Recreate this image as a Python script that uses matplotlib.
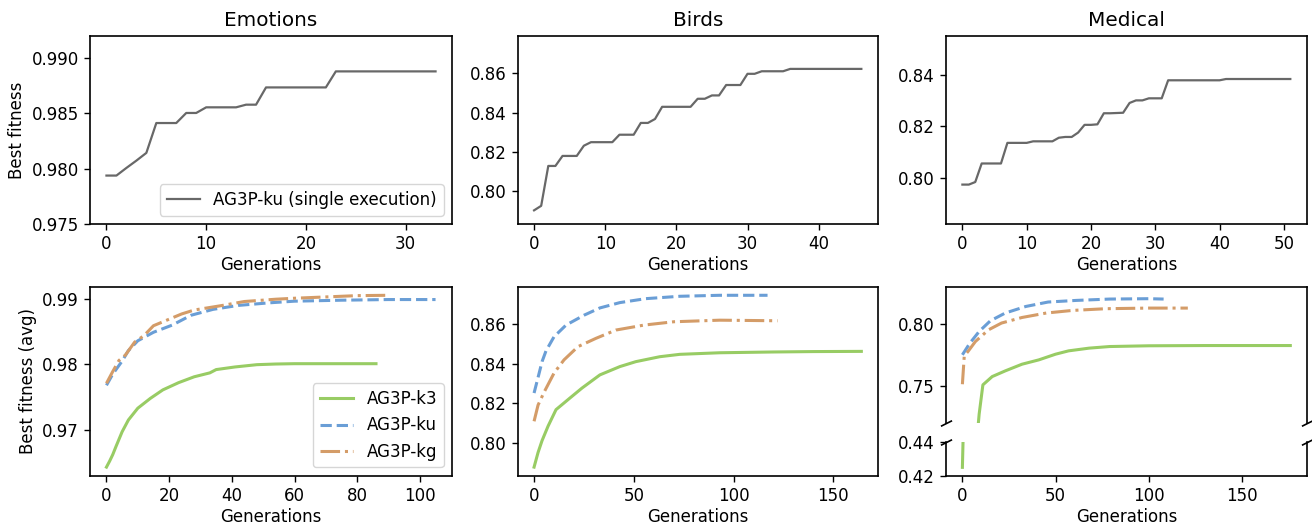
import matplotlib
matplotlib.use("Agg")
import matplotlib.pyplot as plt

# ---------------- data ----------------
titles = ["Emotions", "Birds", "Medical"]
single_label = "AG3P-ku (single execution)"
avg_labels = ["AG3P-k3", "AG3P-ku", "AG3P-kg"]

# single execution (one value per generation)
emo_single = [0.97938, 0.97938, 0.98007, 0.98073, 0.98143, 0.98413, 0.98413, 0.98413,
              0.98504, 0.98504, 0.98555, 0.98555, 0.98555, 0.98555, 0.98579, 0.98579,
              0.98735, 0.98735, 0.98735, 0.98735, 0.98735, 0.98735, 0.98735,
              0.98880, 0.98880, 0.98880, 0.98880, 0.98880, 0.98880, 0.98880, 0.98880,
              0.98880, 0.98880, 0.98880]
birds_single = [0.7902, 0.7925, 0.8128, 0.8128, 0.8179, 0.8179, 0.8179, 0.8231, 0.8249,
                0.8249, 0.8249, 0.8249, 0.8287, 0.8287, 0.8287, 0.8347, 0.8347, 0.8367,
                0.8429, 0.8429, 0.8429, 0.8429, 0.8429, 0.8470, 0.8470, 0.8487, 0.8487,
                0.8540, 0.8540, 0.8540, 0.8597, 0.8597, 0.8610, 0.8610, 0.8610, 0.8610,
                0.8622, 0.8622, 0.8622, 0.8622, 0.8622, 0.8622, 0.8622, 0.8622, 0.8622,
                0.8622, 0.8622]
med_single = [0.7973, 0.7973, 0.7983, 0.8055, 0.8055, 0.8055, 0.8055, 0.8135, 0.8135,
              0.8135, 0.8135, 0.8141, 0.8141, 0.8141, 0.8141, 0.8155, 0.8158, 0.8158,
              0.8175, 0.8205, 0.8205, 0.8207, 0.8250, 0.8250, 0.8251, 0.8252, 0.8290,
              0.8300, 0.8300, 0.8308, 0.8308, 0.8308, 0.8378, 0.8378, 0.8378, 0.8378,
              0.8378, 0.8378, 0.8378, 0.8378, 0.8378, 0.8383, 0.8383, 0.8383, 0.8383,
              0.8383, 0.8383, 0.8383, 0.8383, 0.8383, 0.8383, 0.8383]

# averaged runs (values read at selected generations)
emo_k3_gen = [0, 1, 2, 3, 5, 7, 10, 14, 18, 23, 28, 33, 35, 41, 48, 54, 60, 70, 86]
emo_k3 = [0.9643, 0.9652, 0.9662, 0.9674, 0.9697, 0.9715, 0.9733, 0.9748, 0.9761, 0.9772,
          0.9781, 0.9787, 0.9792, 0.9796, 0.97995, 0.98005, 0.9801, 0.9801, 0.9801]
emo_ku_gen = [0, 2, 5, 7, 10, 15, 21, 27, 34, 42, 52, 60, 75, 90, 105]
emo_ku = [0.9768, 0.9785, 0.9805, 0.9821, 0.9836, 0.9849, 0.9860, 0.9875, 0.9884, 0.9890,
          0.9894, 0.98965, 0.9898, 0.9899, 0.9899]
emo_kg_gen = [0, 2, 4, 6, 9, 12, 15, 19, 24, 28, 37, 44, 54, 60, 70, 80, 90]
emo_kg = [0.9771, 0.9789, 0.9806, 0.9814, 0.9834, 0.9844, 0.9859, 0.9867, 0.9877, 0.9883,
          0.9890, 0.9896, 0.98995, 0.9901, 0.9903, 0.9905, 0.99055]

birds_k3_gen = [0, 2, 4, 7, 11, 18, 24, 33, 43, 51, 63, 73, 93, 120, 140, 164]
birds_k3 = [0.7876, 0.7950, 0.8010, 0.8083, 0.8167, 0.8226, 0.8276, 0.8343, 0.8385, 0.8410,
            0.8435, 0.8447, 0.8455, 0.8459, 0.8461, 0.8462]
birds_ku_gen = [0, 2, 4, 6, 10, 16, 25, 33, 43, 56, 73, 93, 117]
birds_ku = [0.8251, 0.8330, 0.8410, 0.8465, 0.8536, 0.8595, 0.8645, 0.8682, 0.8709, 0.8729,
            0.8741, 0.8746, 0.8746]
birds_kg_gen = [0, 2, 5, 10, 15, 22, 31, 41, 55, 70, 93, 122]
birds_kg = [0.8108, 0.8190, 0.8255, 0.8352, 0.8419, 0.8486, 0.8528, 0.8570, 0.8595, 0.8612,
            0.8620, 0.8617]

med_k3_gen = [0, 1, 8, 9, 11, 16, 23, 32, 41, 50, 57, 68, 79, 100, 130, 176]
med_k3 = [0.425, 0.470, 0.710, 0.727, 0.7506, 0.7573, 0.7619, 0.7673, 0.7708, 0.7754,
          0.7781, 0.7803, 0.7816, 0.7822, 0.7824, 0.7824]
med_ku_gen = [0, 4, 9, 15, 23, 34, 46, 61, 79, 100, 108]
med_ku = [0.7749, 0.7843, 0.7938, 0.8024, 0.8087, 0.8140, 0.8176, 0.8189, 0.8200, 0.8203,
          0.8200]
med_kg_gen = [0, 1, 3, 7, 14, 21, 32, 45, 59, 77, 100, 121]
med_kg = [0.7511, 0.7740, 0.7776, 0.7857, 0.7951, 0.8006, 0.8051, 0.8087, 0.8108, 0.8122,
          0.8127, 0.8127]

# ---------------- style ----------------
plt.rcParams["font.family"] = ["DejaVu Sans"]
plt.rcParams["font.size"] = 12
plt.rcParams["axes.linewidth"] = 1.2
plt.rcParams["xtick.major.size"] = 4.5
plt.rcParams["ytick.major.size"] = 4.5
plt.rcParams["xtick.major.width"] = 1.0
plt.rcParams["ytick.major.width"] = 1.0
GREY = "#686868"
GREEN = "#98cc64"
BLUE = "#6a9ed6"
ORANGE = "#d49c68"
LW = 2.2

W, H = 1312, 531
fig = plt.figure(figsize=(W / 100, H / 100), dpi=100)


def rect(x0, y0, x1, y1):
    return [x0 / W, 1 - y1 / H, (x1 - x0) / W, (y1 - y0) / H]


cols = [(90, 452), (517.7, 877.7), (946, 1306.7)]
top_y = (36, 224)
bot_y = (286.7, 475.7)

ax_t0 = fig.add_axes(rect(cols[0][0], top_y[0], cols[0][1], top_y[1]))
ax_t1 = fig.add_axes(rect(cols[1][0], top_y[0], cols[1][1], top_y[1]))
ax_t2 = fig.add_axes(rect(cols[2][0], top_y[0], cols[2][1], top_y[1]))
ax_b0 = fig.add_axes(rect(cols[0][0], bot_y[0], cols[0][1], bot_y[1]))
ax_b1 = fig.add_axes(rect(cols[1][0], bot_y[0], cols[1][1], bot_y[1]), sharey=ax_t1)
ax_b2_lo = fig.add_axes(rect(cols[2][0], 442.3, cols[2][1], bot_y[1]))
ax_b2_hi = fig.add_axes(rect(cols[2][0], bot_y[0], cols[2][1], 423.3), sharex=ax_b2_lo)

# ---------------- top row ----------------
for ax, data, title in zip([ax_t0, ax_t1, ax_t2], [emo_single, birds_single, med_single], titles):
    ax.plot(range(len(data)), data, color=GREY, lw=1.6, label=single_label)
    ax.set_title(title, fontsize=14.4, pad=7)
    ax.set_xlabel("Generations", labelpad=2)

ax_t0.set_ylabel("Best fitness")
ax_t0.set_ylim(0.975, 0.992)
ax_t0.set_yticks([0.975, 0.980, 0.985, 0.990])
ax_t0.set_xticks([0, 10, 20, 30])
ax_t0.legend(loc="lower right")

ax_t1.set_xticks([0, 10, 20, 30, 40])
ax_t2.set_ylim(0.782, 0.855)
ax_t2.set_yticks([0.80, 0.82, 0.84])
ax_t2.set_xticks([0, 10, 20, 30, 40, 50])

# ---------------- bottom row ----------------
def plot_avg(ax, g3, v3, gu, vu, gg, vg, labels=True):
    ax.plot(g3, v3, color=GREEN, lw=LW, ls="-", label=avg_labels[0] if labels else None)
    ax.plot(gu, vu, color=BLUE, lw=LW, ls="--", label=avg_labels[1] if labels else None)
    ax.plot(gg, vg, color=ORANGE, lw=LW, ls="-.", label=avg_labels[2] if labels else None)


plot_avg(ax_b0, emo_k3_gen, emo_k3, emo_ku_gen, emo_ku, emo_kg_gen, emo_kg)
ax_b0.set_ylabel("Best fitness (avg)")
ax_b0.set_xlabel("Generations", labelpad=2)
ax_b0.set_yticks([0.97, 0.98, 0.99])
ax_b0.legend(loc="lower right")

plot_avg(ax_b1, birds_k3_gen, birds_k3, birds_ku_gen, birds_ku, birds_kg_gen, birds_kg)
ax_b1.set_xlabel("Generations", labelpad=2)
ax_b1.set_yticks([0.80, 0.82, 0.84, 0.86])
ax_b1.set_xticks([0, 50, 100, 150])

for ax in (ax_b2_hi, ax_b2_lo):
    plot_avg(ax, med_k3_gen, med_k3, med_ku_gen, med_ku, med_kg_gen, med_kg, labels=False)
ax_b2_hi.set_ylim(0.7195, 0.830)
ax_b2_hi.set_yticks([0.75, 0.80])
ax_b2_lo.set_ylim(0.42, 0.44)
ax_b2_lo.set_yticks([0.42, 0.44])
ax_b2_lo.set_xticks([0, 50, 100, 150])
ax_b2_lo.set_xlabel("Generations", labelpad=2)
ax_b2_hi.spines["bottom"].set_visible(False)
ax_b2_lo.spines["top"].set_visible(False)
ax_b2_hi.tick_params(axis="x", bottom=False, labelbottom=False)

d = 0.5
kw = dict(marker=[(-1, -d), (1, d)], markersize=8, linestyle="none",
          color="k", mec="k", mew=1.2, clip_on=False)
ax_b2_hi.plot([0, 1], [0, 0], transform=ax_b2_hi.transAxes, **kw)
ax_b2_lo.plot([0, 1], [1, 1], transform=ax_b2_lo.transAxes, **kw)

fig.savefig("out.png", dpi=100)
